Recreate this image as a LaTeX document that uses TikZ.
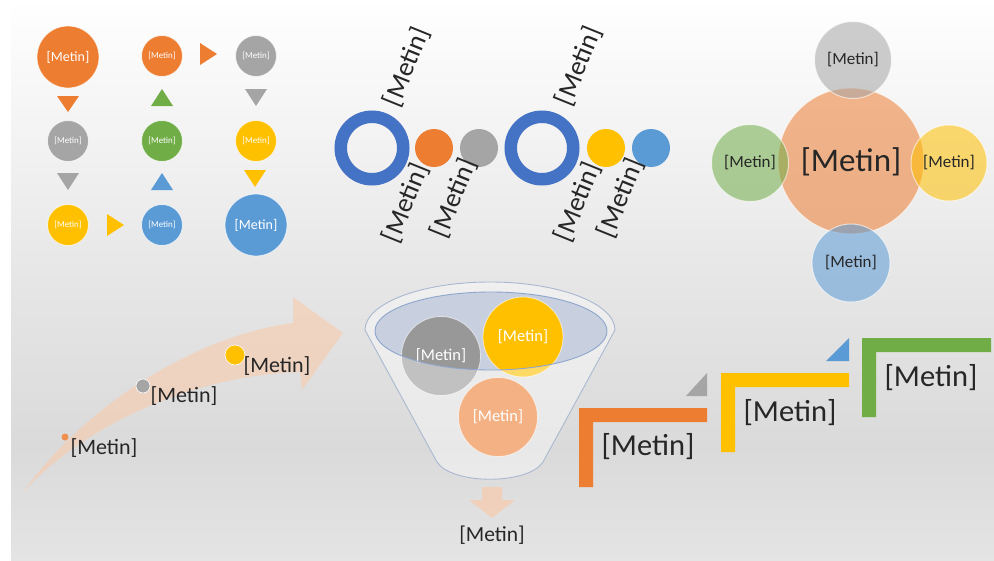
\documentclass[tikz,border=0pt]{standalone}
\usepackage{fontspec}
\setmainfont{Carlito}
\definecolor{cOr}{HTML}{ED7D31}
\definecolor{cGr}{HTML}{A5A5A5}
\definecolor{cYe}{HTML}{FFC000}
\definecolor{cBl}{HTML}{5B9BD5}
\definecolor{cGn}{HTML}{70AD47}
\definecolor{cRing}{HTML}{4472C4}
\definecolor{cTxt}{HTML}{262626}
\definecolor{cPeach}{HTML}{F8CBAD}
\definecolor{cEl}{HTML}{C8D0E0}
\definecolor{cElLine}{HTML}{8EA5CC}
\definecolor{cFunLine}{HTML}{A9B8D0}
\definecolor{bgA}{HTML}{E4E4E4}
\definecolor{bgB}{HTML}{DADADA}
\definecolor{bgC}{HTML}{E6E6E6}
\pgfdeclareverticalshading{bgshade}{100bp}{color(0bp)=(bgA); color(25bp)=(bgA); color(35bp)=(bgB); color(50bp)=(bgC); color(75bp)=(white); color(100bp)=(white)}
\newcommand{\fs}[1]{\fontsize{#1}{#1}\selectfont}
\begin{document}
\begin{tikzpicture}[x=1pt,y=-1pt,
  dotc/.style={circle, inner sep=0pt, draw=white, draw opacity=0.7, line width=0.8pt, text=white},
  bigdot/.style={dotc, minimum size=62pt, font=\fs{14}},
  smalldot/.style={dotc, minimum size=41pt, font=\fs{9}},
  ringc/.style={circle, inner sep=0pt, draw=cRing, line width=12.5pt, minimum size=62.5pt},
  ball/.style={circle, inner sep=0pt, minimum size=38pt},
  rlabel/.style={rotate=68, font=\fs{27}, text=cTxt, inner sep=0pt},
  bub/.style={circle, inner sep=0pt, fill opacity=0.55, text opacity=1, draw=white, draw opacity=0.6, line width=1pt, text=cTxt, font=\fs{17}},
  fball/.style={circle, inner sep=0pt, draw=white, draw opacity=0.6, line width=0.8pt, text=white, font=\fs{16.5}},
  lbl/.style={font=\fs{22}, text=cTxt, inner sep=0pt},
  steplbl/.style={font=\fs{30.5}, text=cTxt, inner sep=0pt}]
\useasboundingbox (0,0) rectangle (994,560);
\fill[white] (0,0) rectangle (994,560);
\shade[shading=bgshade] (11,0) rectangle (994,560);

% ---------- top-left grid ----------
\node[bigdot, fill=cOr] (a1) at (68,57) {[Metin]};
\node[smalldot, fill=cGr] (a2) at (68,141) {[Metin]};
\node[smalldot, fill=cYe] (a3) at (68,225) {[Metin]};
\node[smalldot, fill=cOr] (b1) at (162,56) {[Metin]};
\node[smalldot, fill=cGn] (b2) at (162,141) {[Metin]};
\node[smalldot, fill=cBl] (b3) at (162,225) {[Metin]};
\node[smalldot, fill=cGr] (c1) at (256,56) {[Metin]};
\node[smalldot, fill=cYe] (c2) at (256,141) {[Metin]};
\node[bigdot, fill=cBl] (c3) at (256,225) {[Metin]};
\fill[cOr] (57,96) -- (79,96) -- (68,112) -- cycle;
\fill[cGr] (57,173) -- (79,173) -- (68,190) -- cycle;
\fill[cYe] (107,214) -- (124,225) -- (107,236) -- cycle;
\fill[cBl] (151,190) -- (173,190) -- (162,173) -- cycle;
\fill[cGn] (151,106) -- (173,106) -- (162,89) -- cycle;
\fill[cOr] (200,43) -- (217,54) -- (200,65) -- cycle;
\fill[cGr] (245,89) -- (267,89) -- (256,106) -- cycle;
\fill[cYe] (244,170) -- (266,170) -- (255,187) -- cycle;

% ---------- rings row ----------
\node[ringc] (r1) at (372,148) {};
\node[ball, fill=cOr] (o1) at (434,148) {};
\node[ball, fill=cGr] (g1) at (479,148) {};
\node[ringc] (r2) at (542,148) {};
\node[ball, fill=cYe] (y1) at (606,148) {};
\node[ball, fill=cBl] (bl1) at (651,148) {};
\node[rlabel] (l1) at (407,67) {[Metin]};
\node[rlabel] (l2) at (406,203) {[Metin]};
\node[rlabel] (l3) at (454,198) {[Metin]};
\node[rlabel] (l4) at (579,66) {[Metin]};
\node[rlabel] (l5) at (578,202) {[Metin]};
\node[rlabel] (l6) at (621,198) {[Metin]};

% ---------- right cluster ----------
\node[bub, fill=cOr, minimum size=146pt] (hub) at (851,161) {};
\node[bub, fill=cGr, minimum size=77pt] (ht) at (853,60) {[Metin]};
\node[bub, fill=cGn, minimum size=77pt] (hl) at (750,163) {[Metin]};
\node[bub, fill=cYe, minimum size=76pt] (hr) at (949,163) {[Metin]};
\node[bub, fill=cBl, minimum size=78pt] (hb) at (851,263) {[Metin]};
\node[font=\fs{33}, text=cTxt, inner sep=0pt] (hubtxt) at (851,162) {[Metin]};

% ---------- curved arrow ----------
\fill[cPeach, fill opacity=0.6] (23,492) .. controls (90,400) and (200,335) .. (293,323)
  -- (293,297) -- (343,333) -- (302,390) -- (300,372)
  .. controls (200,375) and (90,420) .. (23,492) -- cycle;
\node[circle, inner sep=0pt, minimum size=7pt, fill=cOr!85!white] (d1) at (65,437) {};
\node[circle, inner sep=0pt, minimum size=14pt, fill=cGr, draw=white, line width=0.6pt] (d2) at (143,386) {};
\node[circle, inner sep=0pt, minimum size=20pt, fill=cYe, draw=white, line width=0.6pt] (d3) at (235,355) {};
\node[lbl] (t1) at (104,448) {[Metin]};
\node[lbl] (t2) at (184,396) {[Metin]};
\node[lbl] (t3) at (277,366) {[Metin]};

% ---------- funnel ----------
\fill[cEl] (491,331) ellipse[x radius=116, y radius=39];
\node[fball, fill=cGr!92!black, minimum size=79pt] (f1) at (441,356) {[Metin]};
\node[fball, fill=cYe, minimum size=80pt] (f2) at (523,337) {[Metin]};
\node[fball, fill=cOr, minimum size=79pt] (f3) at (498,417) {[Metin]};
\fill[white, fill opacity=0.4, even odd rule]
  (365,330) -- (437,462) .. controls (452,485) and (528,485) .. (543,462) -- (615,330)
  arc[start angle=0, end angle=-180, x radius=125, y radius=48] -- cycle
  (491,331) ellipse[x radius=116, y radius=39];
\draw[cFunLine, line width=0.9pt]
  (365,330) -- (437,462) .. controls (452,485) and (528,485) .. (543,462) -- (615,330)
  arc[start angle=0, end angle=-180, x radius=125, y radius=48] -- cycle;
\draw[cElLine, line width=0.9pt] (491,331) ellipse[x radius=116, y radius=39];
\fill[cPeach, fill opacity=0.7] (482,487) -- (502,487) -- (502,500) -- (515,500) -- (492,518) -- (469,500) -- (482,500) -- cycle;
\node[font=\fs{21.5}, text=cTxt, inner sep=0pt] (ft) at (492,535) {[Metin]};

% ---------- steps ----------
\fill[cOr] (579,408) -- (707,408) -- (707,422) -- (593,422) -- (593,487) -- (579,487) -- cycle;
\fill[cYe] (721,373) -- (849,373) -- (849,387) -- (735,387) -- (735,452) -- (721,452) -- cycle;
\fill[cGn] (862,338) -- (991,338) -- (991,352) -- (876,352) -- (876,417) -- (862,417) -- cycle;
\fill[cGr] (686,396) -- (707,396) -- (707,373) -- cycle;
\fill[cBl] (826,361) -- (849,361) -- (849,338) -- cycle;
\node[steplbl] (s1) at (648,447) {[Metin]};
\node[steplbl] (s2) at (790,413) {[Metin]};
\node[steplbl] (s3) at (931,378) {[Metin]};
\end{tikzpicture}
\end{document}
